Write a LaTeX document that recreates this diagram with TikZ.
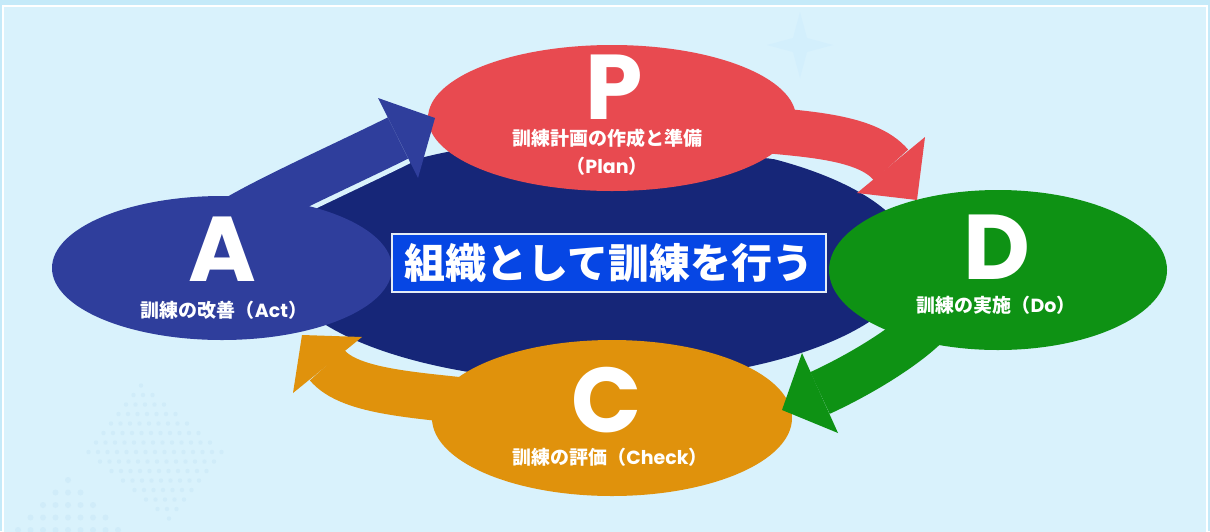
\documentclass[tikz,border=0pt]{standalone}
\usepackage{fontspec}
\newfontfamily\cjk{Noto Sans CJK JP}
\newfontfamily\pop{Poppins}
\usetikzlibrary{shapes.geometric}
\definecolor{bgc}{RGB}{217,242,252}
\definecolor{edgec}{RGB}{197,234,249}
\definecolor{navy}{RGB}{22,38,120}
\definecolor{ablue}{RGB}{47,62,156}
\definecolor{pred}{RGB}{232,74,80}
\definecolor{dgreen}{RGB}{14,146,20}
\definecolor{corange}{RGB}{224,146,12}
\definecolor{boxblue}{RGB}{6,70,228}
\definecolor{boxedge}{RGB}{228,236,246}
\definecolor{dotc}{RGB}{208,236,249}
\definecolor{starc}{RGB}{211,239,252}
\newcommand\jtxt[1]{{\cjk\bfseries #1}}
\newcommand\ltxt[1]{{\pop\bfseries #1}}
\begin{document}
\begin{tikzpicture}[x=1pt,y=-1pt,
  blob/.style={ellipse, inner sep=0pt, draw=none},
  shaftgap/.style={line width=56pt, draw=bgc},
  shaft/.style={line width=46pt},
  letter/.style={text=white, font=\pop\bfseries\fontsize{92}{92}\selectfont, inner sep=0pt, text height=62pt, text depth=0pt},
  sub/.style={text=white, inner sep=0pt, align=center, font=\fontsize{19}{28}\selectfont}]
\useasboundingbox (0,0) rectangle (1210,531);
% background
\fill[edgec] (0,0) rectangle (1210,531);
\draw[fill=bgc, draw=white, line width=2pt] (3,6) rectangle (1207,545);
% faint decorations
\foreach \i in {-7,...,7} {
  \foreach \j in {-7,...,7} {
    \pgfmathtruncatemacro\s{abs(\i)+abs(\j)}
    \ifnum\s<8 \fill[dotc] ({155+9.5*\i+2*\j},{452+9.5*\j}) circle (2.2pt); \fi
  }
}
\foreach \j in {0,...,4} {
  \foreach \i in {-\j,...,\j} {
    \fill[dotc] ({68+12.5*\i},{480+12.5*\j}) circle (3pt);
  }
}
\fill[starc] (800,12) -- (807,38) -- (833,45) -- (807,52) -- (800,78) -- (793,52) -- (767,45) -- (793,38) -- cycle;
% central ellipse
\node[blob, fill=navy, minimum width=636pt, minimum height=244pt] (core) at (595,260) {};
% arrow geometry
\coordinate (bS) at (230,222); \coordinate (bB) at (398,138);
\coordinate (b1) at (378,98); \coordinate (bT) at (435,118); \coordinate (b2) at (418,178);
\coordinate (rS) at (745,128); \coordinate (rB) at (891,165);
\coordinate (r1) at (925,137); \coordinate (rT) at (917,200); \coordinate (r2) at (857,193);
\coordinate (gS) at (930,322); \coordinate (gB) at (820,393);
\coordinate (g1) at (802,353); \coordinate (gT) at (782,410); \coordinate (g2) at (838,433);
\coordinate (oS) at (485,403); \coordinate (oB) at (327,365);
\coordinate (o1) at (362,337); \coordinate (oT) at (302,335); \coordinate (o2) at (293,393);
% shafts
\draw[shaftgap] (bS) .. controls (265,200) and (350,162) .. (bB);
\draw[shaft, ablue] (bS) .. controls (265,200) and (350,162) .. (bB);
\draw[shaftgap] (rS) .. controls (800,134) and (866,135) .. (rB);
\draw[shaft, pred] (rS) .. controls (800,134) and (866,135) .. (rB);
\draw[shaftgap] (gS) .. controls (905,348) and (857,376) .. (gB);
\draw[shaft, dgreen] (gS) .. controls (905,348) and (857,376) .. (gB);
\draw[shaftgap] (oS) .. controls (420,395) and (350,393) .. (oB);
\draw[shaft, corange] (oS) .. controls (420,395) and (350,393) .. (oB);
% phase ellipses
\node[blob, fill=ablue, minimum width=340pt, minimum height=144pt] (A) at (222,268) {};
\node[blob, fill=pred, minimum width=368pt, minimum height=146pt] (P) at (612,118) {};
\node[blob, fill=dgreen, minimum width=338pt, minimum height=160pt] (D) at (998,270) {};
\node[blob, fill=corange, minimum width=360pt, minimum height=156pt] (C) at (612,418) {};
% arrow heads
\fill[ablue] (b1) -- (bT) -- (b2) -- cycle;
\fill[pred] (r1) -- (rT) -- (r2) -- cycle;
\fill[dgreen] (g1) -- (gT) -- (g2) -- cycle;
\fill[corange] (o1) -- (oT) -- (o2) -- cycle;
% central label
\node[draw=boxedge, line width=2pt, fill=boxblue, minimum width=434pt, minimum height=58pt, inner sep=0pt, text=white, font=\cjk\bfseries\fontsize{41}{41}\selectfont] (goal) at (609,263) {組織として訓練を行う};
% texts
\node[letter] (Pl) at (614,88) {P};
\node[sub] (Ps) at (607,152) {\jtxt{訓練計画の作成と準備}\\\jtxt{（}\ltxt{Plan}\jtxt{）}};
\node[letter] (Al) at (222,250) {A};
\node[sub] (As) at (224,310) {\jtxt{訓練の改善（}\ltxt{Act}\jtxt{）}};
\node[letter] (Dl) at (997,248) {D};
\node[sub] (Ds) at (996,305) {\jtxt{訓練の実施（}\ltxt{Do}\jtxt{）}};
\node[letter] (Cl) at (607,401) {C};
\node[sub] (Cs) at (610,457) {\jtxt{訓練の評価（}\ltxt{Check}\jtxt{）}};
\end{tikzpicture}
\end{document}
